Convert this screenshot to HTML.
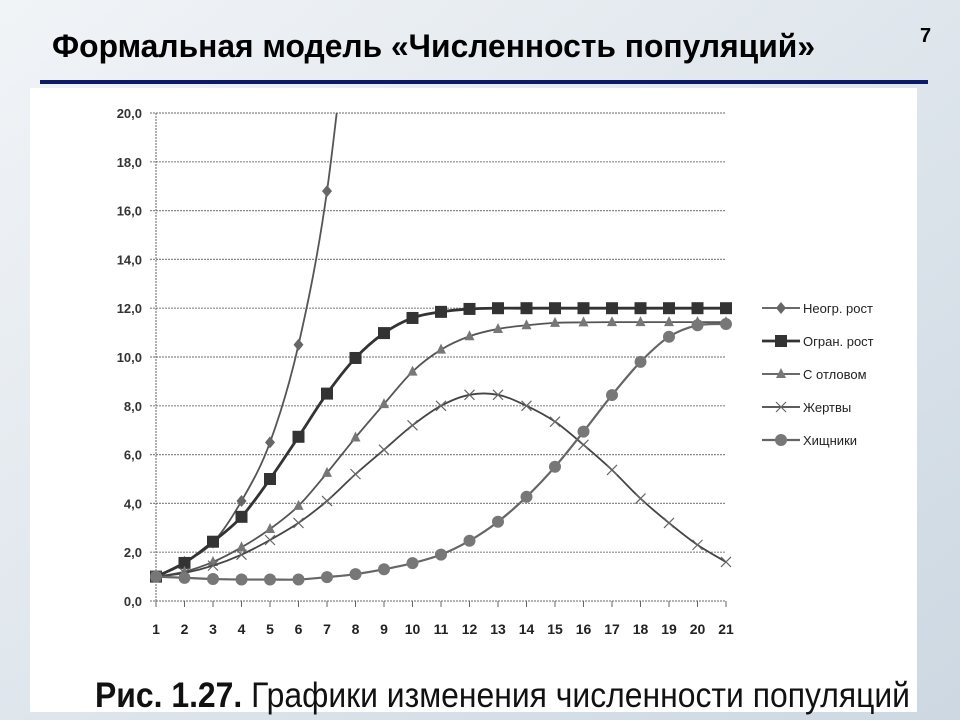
<!DOCTYPE html>
<html><head><meta charset="utf-8"><style>
html,body{margin:0;padding:0;width:960px;height:720px;overflow:hidden;}
svg{display:block;font-family:"Liberation Sans",sans-serif;}
</style></head><body>
<svg id="c" width="960" height="720" xmlns="http://www.w3.org/2000/svg">
<defs><linearGradient id="bg" x1="0" y1="0" x2="1" y2="1"><stop offset="0" stop-color="#f1f4f7"/><stop offset="1" stop-color="#cdd8e2"/></linearGradient></defs>
<rect width="960" height="720" fill="url(#bg)"/>
<text x="52" y="57" font-size="32" font-weight="bold" textLength="763" lengthAdjust="spacingAndGlyphs" fill="#000">Формальная модель «Численность популяций»</text>
<text x="920" y="42" font-size="20" font-weight="bold">7</text>
<rect x="40" y="80" width="888" height="4" fill="#0d1a66"/>
<rect x="30" y="88" width="887" height="624" fill="#fff"/>
<g id="grid"></g>
<g id="series"></g>
<g id="legend"></g>
<text x="95" y="707" font-size="35" textLength="815" lengthAdjust="spacingAndGlyphs" fill="#111"><tspan font-weight="bold">Рис. 1.27.</tspan> Графики изменения численности популяций</text>
</svg>
<script>
const categories=[1,2,3,4,5,6,7,8,9,10,11,12,13,14,15,16,17,18,19,20,21];
const yTicks=[0,2,4,6,8,10,12,14,16,18,20];
const yTickLabels=["0,0","2,0","4,0","6,0","8,0","10,0","12,0","14,0","16,0","18,0","20,0"];
const seriesNames=["Неогр. рост","Огран. рост","С отловом","Жертвы","Хищники"];
const unlimited=[1.0,1.6,2.4,4.1,6.5,10.5,16.8,27];
const limited=[1.0,1.56,2.43,3.45,5.0,6.73,8.5,9.96,10.98,11.6,11.85,11.97,12.0,12.0,12.0,12.0,12.0,12.0,12.0,12.0,12.0];
const harvest=[1.0,1.2,1.6,2.2,2.95,3.9,5.25,6.7,8.07,9.4,10.3,10.85,11.15,11.3,11.4,11.42,11.43,11.43,11.43,11.43,11.43];
const prey=[1.0,1.15,1.45,1.9,2.5,3.2,4.1,5.2,6.2,7.2,8.0,8.45,8.45,8.0,7.35,6.4,5.37,4.2,3.2,2.3,1.6];
const predators=[1.0,0.95,0.9,0.88,0.88,0.88,0.98,1.1,1.3,1.55,1.9,2.47,3.25,4.27,5.5,6.94,8.44,9.8,10.83,11.3,11.35];
const NS="http://www.w3.org/2000/svg";
const X0=156,X1=726,Y0=601,Y1=113;
const xs=i=>X0+(X1-X0)*(categories[i]-1)/(categories[categories.length-1]-1);
const ys=v=>Y0-(Y0-Y1)*v/20;
function mk(t,a,p){const e=document.createElementNS(NS,t);for(const k in a)e.setAttribute(k,a[k]);p.appendChild(e);return e;}
const grid=document.getElementById('grid');
yTicks.forEach((v,i)=>{
 const l=mk('line',{x1:X0-6,x2:X1,y1:ys(v),y2:ys(v),stroke:'#888','stroke-dasharray':'2,1','stroke-width':1.2},grid);
 
 
 const t=mk('text',{x:X0-14,y:ys(v)+5,'text-anchor':'end','font-size':13,'font-weight':'bold',fill:'#333'},grid);
 t.textContent=yTickLabels[i];
 
 
});
const ya=mk('line',{x1:X0,x2:X0,y1:Y1,y2:Y0,stroke:'#666','stroke-dasharray':'2,1'},grid);


categories.forEach((c,i)=>{
 const t=mk('text',{x:xs(i),y:634,'text-anchor':'middle','font-size':14,'font-weight':'bold',fill:'#222'},grid);
 t.textContent=c;
 
 
 const tk=mk('line',{x1:xs(i),x2:xs(i),y1:Y0,y2:Y0+6,stroke:'#666'},grid);
 
 
});
const ser=document.getElementById('series');
const clip=mk('clipPath',{id:'pc'},ser);mk('rect',{x:100,y:Y1,width:700,height:Y0-Y1+20},clip);
function marker(kind,x,y,g){
 let e;
 if(kind==='d')e=mk('polygon',{points:`${x},${y-6} ${x+5},${y} ${x},${y+6} ${x-5},${y}`,fill:'#666'},g);
 else if(kind==='s')e=mk('rect',{x:x-6,y:y-6,width:12,height:12,fill:'#333'},g);
 else if(kind==='t')e=mk('polygon',{points:`${x},${y-6} ${x+5},${y+4} ${x-5},${y+4}`,fill:'#777'},g);
 else if(kind==='x'){e=mk('path',{d:`M${x-5} ${y-5}L${x+5} ${y+5}M${x-5} ${y+5}L${x+5} ${y-5}`,stroke:'#666','stroke-width':1.2},g);}
 else e=mk('circle',{cx:x,cy:y,r:6,fill:'#777'},g);
 
 
}
function smooth(pts){let d=`M${pts[0][0]},${pts[0][1]}`;for(let i=0;i<pts.length-1;i++){const p0=pts[i-1]||pts[i],p1=pts[i],p2=pts[i+1],p3=pts[i+2]||p2;d+=`C${p1[0]+(p2[0]-p0[0])/6},${p1[1]+(p2[1]-p0[1])/6} ${p2[0]-(p3[0]-p1[0])/6},${p2[1]-(p3[1]-p1[1])/6} ${p2[0]},${p2[1]}`;}return d;}
const defs=[[unlimited,'d','#555',1.8,'series-unlimited-growth'],[limited,'s','#333',2.8,'series-limited-growth'],[harvest,'t','#555',1.8,'series-with-harvest'],[prey,'x','#444',1.8,'series-prey'],[predators,'c','#666',2.2,'series-predators']];
defs.forEach(([arr,k,col,w,nm])=>{
 const g=mk('g',{'clip-path':'url(#pc)'},ser);
 
 
 const pts=arr.map((v,i)=>[xs(i),ys(v)]);
 mk('path',{d:smooth(pts),fill:'none',stroke:col,'stroke-width':w},g);
 pts.forEach(p=>{if(p[1]>=Y1)marker(k,p[0],p[1],g);});
});
const lg=document.getElementById('legend');
seriesNames.forEach((n,i)=>{
 const y=308+i*33;
 const g=mk('g',{},lg);
 
 
 mk('line',{x1:762,x2:800,y1:y,y2:y,stroke:defs[i][2],'stroke-width':defs[i][3]},g);
 marker(defs[i][1],781,y,g);
 const t=mk('text',{x:803,y:y+5,'font-size':13,fill:'#222'},g);t.textContent=n;
});
</script>
</body></html>
